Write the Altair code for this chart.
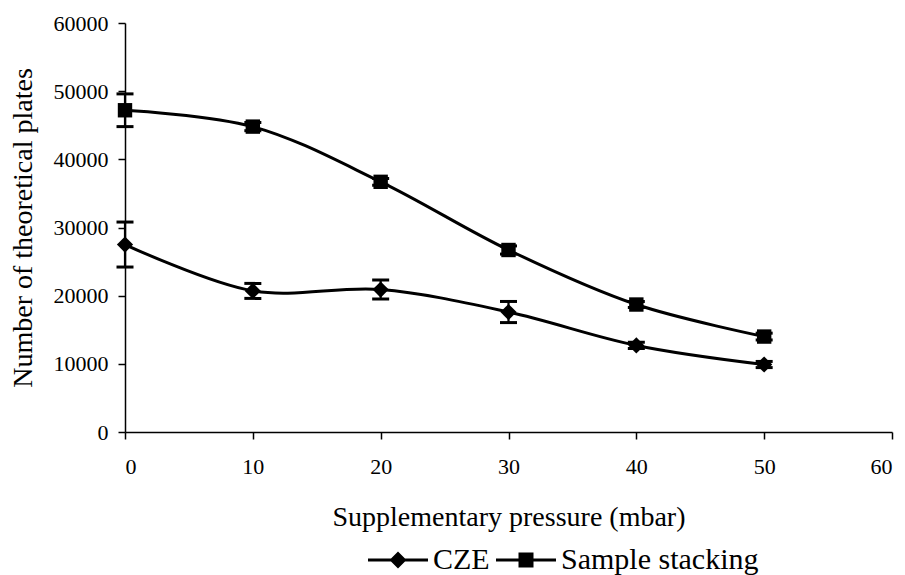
import altair as alt
import pandas as pd

pressure = [0, 10, 20, 30, 40, 50]
series_names = ["CZE", "Sample stacking"]
cze_plates = [27500, 20700, 20900, 17600, 12700, 9900]
cze_err = [3300, 1100, 1400, 1550, 450, 450]
stack_plates = [47200, 44800, 36700, 26700, 18700, 14000]
stack_err = [2400, 600, 500, 600, 450, 500]

rows = []
for s, vals, errs in [(series_names[0], cze_plates, cze_err), (series_names[1], stack_plates, stack_err)]:
    for p, v, e in zip(pressure, vals, errs):
        rows.append({"pressure": p, "plates": v, "lo": v - e, "hi": v + e, "series": s})
df = pd.DataFrame(rows)

FONT = "Liberation Serif"
DIAMOND = "M0,-0.9L0.9,0L0,0.9L-0.9,0Z"
SQUARE = "M-0.8,-0.8H0.8V0.8H-0.8Z"
# legend symbols: a short line (thin filled bar) with the marker on it
LEG_DIAMOND = "M-3,-0.15H3V0.15H-3ZM0,-0.85L0.85,0L0,0.85L-0.85,0Z"
LEG_SQUARE = "M-3,-0.15H3V0.15H-3ZM-0.75,-0.75H0.75V0.75H-0.75Z"

x = alt.X("pressure:Q", title="Supplementary pressure (mbar)",
          scale=alt.Scale(domain=[0, 60], nice=False),
          axis=alt.Axis(values=[0, 10, 20, 30, 40, 50, 60], grid=False))
y = alt.Y("plates:Q", title="Number of theoretical plates",
          scale=alt.Scale(domain=[0, 60000], nice=False),
          axis=alt.Axis(values=[0, 10000, 20000, 30000, 40000, 50000, 60000], grid=False, format="d"))

base = alt.Chart(df)

lines = base.mark_line(interpolate="catmull-rom", color="black", strokeWidth=3).encode(
    x=x, y=y, detail="series:N")

err_rule = base.mark_rule(color="black", strokeWidth=2.2).encode(
    x="pressure:Q", y="lo:Q", y2="hi:Q")
err_lo = base.mark_tick(color="black", thickness=3, size=17, orient="horizontal", opacity=1).encode(
    x="pressure:Q", y="lo:Q")
err_hi = base.mark_tick(color="black", thickness=3, size=17, orient="horizontal", opacity=1).encode(
    x="pressure:Q", y="hi:Q")

points = base.mark_point(filled=True, color="black", opacity=1, size=324).encode(
    x="pressure:Q", y="plates:Q",
    shape=alt.Shape("series:N",
                    scale=alt.Scale(domain=series_names, range=[DIAMOND, SQUARE]),
                    legend=None))

legend_layer = base.transform_filter("false").mark_point(
    filled=True, color="black", opacity=1, size=400).encode(
    x="pressure:Q", y="plates:Q",
    shape=alt.Shape("series:N",
                    scale=alt.Scale(domain=series_names, range=[LEG_DIAMOND, LEG_SQUARE]),
                    legend=alt.Legend(
                        title=None, orient="none", direction="horizontal",
                        legendX=258, legendY=522, padding=0,
                        labelFont=FONT, labelFontSize=30, labelFontWeight="normal",
                        labelColor="black", labelOffset=20, columnPadding=3, labelLimit=600,
                        symbolSize=400, symbolFillColor="black", symbolOpacity=1)))

chart = alt.layer(lines, err_rule, err_lo, err_hi, points, legend_layer).resolve_scale(
    shape="independent"
).properties(
    width=767, height=409,
    autosize=alt.AutoSizeParams(type="none"),
    padding={"left": 117, "top": 15, "right": 5, "bottom": 150},
).configure_view(stroke=None).configure_axis(
    domainColor="black", domainWidth=1.5, tickColor="black", tickWidth=1.5, tickSize=7,
    labelFont=FONT, labelFontSize=22, labelColor="black", titleFont=FONT,
    titleFontSize=28, titleFontWeight="normal", titleColor="black",
).configure_axisX(labelPadding=17, titlePadding=26).configure_axisY(labelPadding=10, titlePadding=16)

chart.save("out.html", embed_options={"renderer": "svg", "actions": False})
